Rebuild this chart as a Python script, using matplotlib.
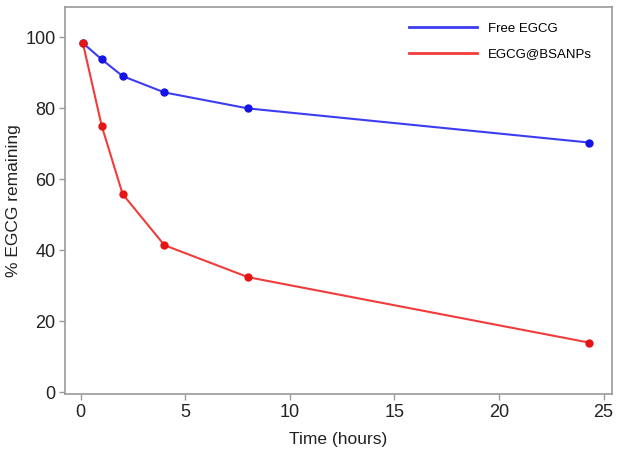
import numpy as np
import matplotlib
matplotlib.use('Agg')
from matplotlib import pyplot as plt

plt.rcParams['font.family'] = ['Liberation Sans', 'DejaVu Sans']

time_h = [0.1, 1, 2, 4, 8, 24.3]
free_egcg = [98.3, 93.7, 89.0, 84.4, 79.9, 70.3]
egcg_bsanps = [98.3, 75.0, 55.8, 41.4, 32.4, 14.0]

x_ticks = [0, 5, 10, 15, 20, 25]
y_ticks = [0, 20, 40, 60, 80, 100]

fig = plt.figure(figsize=(6.2, 4.54), dpi=100)
ax = fig.add_axes([0.105, 0.132, 0.882, 0.853])

ax.plot(time_h, free_egcg, color='#3c3cf2', lw=1.5, marker='o', ms=5,
        mfc='#1414e6', mec='#1414e6', label='Free EGCG')
ax.plot(time_h, egcg_bsanps, color='#f23c3c', lw=1.5, marker='o', ms=5,
        mfc='#e61414', mec='#e61414', label='EGCG@BSANPs')

ax.set_xlim(-0.75, 25.4)
ax.set_ylim(-0.5, 108.5)
ax.set_xticks(x_ticks)
ax.set_yticks(y_ticks)

for s in ax.spines.values():
    s.set_color('#9a9a9a')
    s.set_linewidth(1.2)
ax.tick_params(colors='#9a9a9a', labelcolor='#222222', labelsize=13,
               length=4, width=1, pad=3)

ax.set_xlabel('Time (hours)', fontsize=12.5, color='#222222', labelpad=8)
ax.set_ylabel('% EGCG remaining', fontsize=12.5, color='#222222', labelpad=3)

leg = ax.legend(loc='upper right', bbox_to_anchor=(0.985, 0.99), frameon=False,
                fontsize=9.5, handlelength=5.2, handletextpad=0.8,
                labelspacing=1.0)
for h in leg.get_lines():
    h.set_marker('')
    h.set_linewidth(2)

plt.savefig('out.png', dpi=100)
